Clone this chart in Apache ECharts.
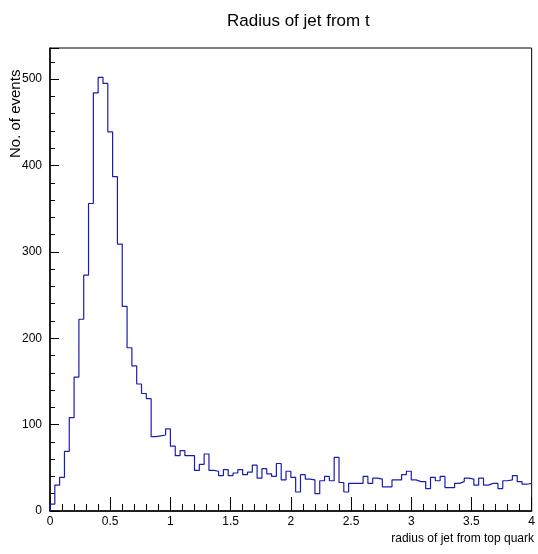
<!DOCTYPE html>
<html>
<head>
<meta charset="utf-8">
<script src="https://cdn.jsdelivr.net/npm/echarts@6/dist/echarts.min.js"></script>
<style>
  html, body { margin: 0; padding: 0; background: #fff; }
  #chart { width: 538px; height: 554px; }
</style>
</head>
<body>
<div id="chart"></div>
<script>
// histogram binning
const xMin = 0;
const xMax = 4;
const binWidth = 0.04;

// counts per bin (100 bins)
const counts = [
  8, 30, 39, 69, 108, 155, 222, 273, 356, 484,
  502, 495, 439, 387, 309, 237, 189, 168, 147, 136,
  130, 86, 87, 88, 95, 75, 64, 70, 64, 64,
  47, 54, 66, 47, 46, 41, 48, 41, 44, 48,
  42, 45, 53, 38, 49, 43, 40, 55, 36, 46,
  39, 22, 42, 37, 36, 20, 35, 40, 35, 62,
  33, 22, 32, 32, 32, 40, 32, 38, 37, 28,
  28, 36, 36, 42, 46, 36, 34, 34, 26, 39,
  35, 40, 27, 27, 32, 34, 38, 37, 30, 38,
  30, 32, 32, 26, 35, 36, 41, 34, 31, 32
];

const yMax = 536;
const yInterval = 100;
const xInterval = 0.5;

const titleText = 'Radius of jet from t';
const xTitle = 'radius of jet from top quark';
const yTitle = 'No. of events';

// step outline: one point at each bin's low edge, plus the closing edge
const stepData = [[xMin, 0]];
counts.forEach((c, i) => {
  stepData.push([+(xMin + i * binWidth).toFixed(4), c]);
});
stepData.push([xMax, counts[counts.length - 1]]);

const chart = echarts.init(document.getElementById('chart'));

const fontFamily = '"Liberation Sans", Arial, sans-serif';
const labelFont = { color: '#000', fontFamily: fontFamily, fontSize: 12 };

chart.setOption({
  animation: false,
  backgroundColor: '#fff',
  title: {
    text: titleText,
    left: 222,
    top: 8,
    textStyle: {
      color: '#000',
      fontWeight: 'normal',
      fontFamily: fontFamily,
      fontSize: 17
    }
  },
  grid: {
    left: 50,
    right: 3,
    top: 48,
    bottom: 43,
    show: true,
    borderColor: '#000',
    borderWidth: 1,
    backgroundColor: 'transparent'
  },
  xAxis: {
    type: 'value',
    min: xMin,
    max: xMax,
    interval: xInterval,
    splitLine: { show: false },
    axisLine: { lineStyle: { color: '#000', width: 1.5 } },
    axisTick: { inside: true, length: 14, lineStyle: { color: '#000' } },
    minorTick: { show: true, splitNumber: 5, length: 7, lineStyle: { color: '#000' } },
    axisLabel: Object.assign({ margin: 5 }, labelFont)
  },
  yAxis: {
    type: 'value',
    min: 0,
    max: yMax,
    interval: yInterval,
    splitLine: { show: false },
    axisLine: { show: true, lineStyle: { color: '#000', width: 1.5 } },
    axisTick: { show: true, inside: true, length: 9, lineStyle: { color: '#000' } },
    minorTick: { show: true, splitNumber: 5, length: 5, lineStyle: { color: '#000' } },
    axisLabel: Object.assign({ margin: 8, showMaxLabel: false }, labelFont)
  },
  graphic: [
    {
      type: 'text',
      right: 4,
      top: 533,
      style: {
        text: xTitle,
        fill: '#000',
        font: '12px ' + fontFamily
      }
    },
    {
      type: 'text',
      x: 16,
      y: 158,
      rotation: Math.PI / 2,
      style: {
        text: yTitle,
        fill: '#000',
        align: 'left',
        verticalAlign: 'middle',
        font: '15px ' + fontFamily
      }
    }
  ],
  series: [
    {
      type: 'line',
      step: 'end',
      data: stepData,
      showSymbol: false,
      symbol: 'none',
      lineStyle: { color: '#1c1cb0', width: 1.2 }
    }
  ]
});
</script>
</body>
</html>
